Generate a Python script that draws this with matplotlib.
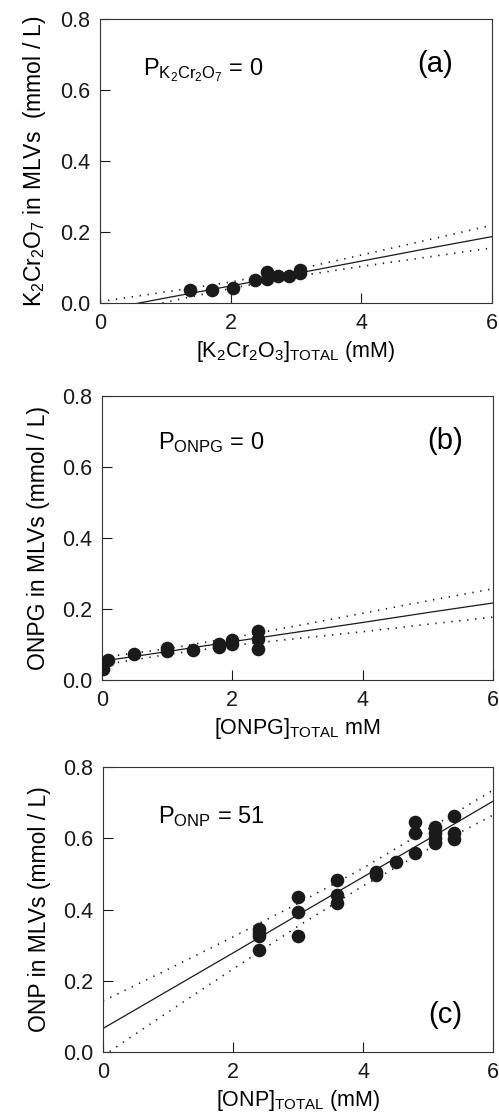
import numpy as np
import matplotlib.pyplot as plt

plt.rcParams['font.family'] = ['Liberation Sans', 'DejaVu Sans']
plt.rcParams['mathtext.fontset'] = 'custom'
plt.rcParams['mathtext.rm'] = 'Liberation Sans'
plt.rcParams['mathtext.it'] = 'Liberation Sans:italic'
plt.rcParams['mathtext.default'] = 'regular'

# K2Cr2O7 uptake
a_x = [1.37, 1.71, 2.04, 2.37, 2.55, 2.55, 2.72, 2.89, 3.06, 3.06]
a_y = [0.037, 0.037, 0.041, 0.064, 0.067, 0.087, 0.076, 0.076, 0.085, 0.094]

# ONPG uptake
b_x = [0.02, 0.02, 0.09, 0.49, 1.0, 1.0, 1.4, 1.79, 1.79, 2.0, 2.0, 2.4, 2.4, 2.4]
b_y = [0.030, 0.042, 0.055, 0.074, 0.083, 0.089, 0.085, 0.092, 0.102, 0.101, 0.113, 0.088, 0.115, 0.137]

# ONP uptake
c_x = [2.4, 2.4, 2.4, 2.4, 3.0, 3.0, 3.0, 3.6, 3.6, 3.6, 4.2, 4.2, 4.5,
       4.8, 4.8, 4.8, 5.1, 5.1, 5.1, 5.1, 5.4, 5.4, 5.4]
c_y = [0.345, 0.335, 0.325, 0.287, 0.436, 0.394, 0.326, 0.483, 0.441, 0.419,
       0.504, 0.497, 0.532, 0.647, 0.616, 0.560, 0.631, 0.614, 0.600, 0.586,
       0.663, 0.614, 0.598]

# regression lines and 95% bands, evaluated at x = 0..6
grid_x = [0, 1, 2, 3, 4, 5, 6]
a_fit = [-0.021, 0.014, 0.048, 0.083, 0.118, 0.153, 0.187]
a_up = [0.004, 0.031, 0.059, 0.094, 0.135, 0.177, 0.219]
a_lo = [-0.040, 0.002, 0.041, 0.075, 0.103, 0.129, 0.155]
b_fit = [0.053, 0.080, 0.108, 0.135, 0.162, 0.190, 0.217]
b_up = [0.064, 0.088, 0.119, 0.153, 0.188, 0.223, 0.257]
b_lo = [0.042, 0.072, 0.097, 0.117, 0.136, 0.157, 0.177]
c_fit = [0.066, 0.172, 0.278, 0.385, 0.491, 0.597, 0.704]
c_up = [0.143, 0.232, 0.323, 0.417, 0.516, 0.625, 0.735]
c_lo = [-0.011, 0.112, 0.233, 0.353, 0.466, 0.569, 0.665]

fig = plt.figure(figsize=(4.99, 11.17), dpi=100)

panels = [
    ([100/499, 814/1117, 392/499, 284/1117], a_x, a_y, a_fit, a_up, a_lo,
     'K$_2$Cr$_2$O$_7$ in MLVs  (mmol / L)',
     '[K$_2$Cr$_2$O$_3$]$_{TOTAL}$ (mM)',
     '$P_{K_2Cr_2O_7}$ = 0', (0.66, 0.656), '(a)', (5.13, 0.672)),
    ([102/499, 437/1117, 391/499, 284/1117], b_x, b_y, b_fit, b_up, b_lo,
     'ONPG in MLVs (mmol / L)',
     '[ONPG]$_{TOTAL}$ mM',
     '$P_{ONPG}$ = 0', (0.86, 0.668), '(b)', (5.26, 0.672)),
    ([103/499, 65/1117, 390/499, 285/1117], c_x, c_y, c_fit, c_up, c_lo,
     'ONP in MLVs (mmol / L)',
     '[ONP]$_{TOTAL}$ (mM)',
     '$P_{ONP}$ = 51', (0.85, 0.66), '(c)', (5.26, 0.104)),
]

for rect, x, y, fit, up, lo, ylab, xlab, ptxt, ppos, tag, tpos in panels:
    ax = fig.add_axes(rect)
    ax.plot(grid_x, fit, color='#1a1a1a', lw=0.9)
    ax.plot(grid_x, up, color='#1a1a1a', lw=1.2, ls=(0, (0.8, 4.0)))
    ax.plot(grid_x, lo, color='#1a1a1a', lw=1.2, ls=(0, (0.8, 4.0)))
    ax.plot(x, y, 'o', color='#1a1a1a', ms=9.8, mec='none', zorder=3)
    ax.set_xlim(0, 6)
    ax.set_ylim(0, 0.8)
    ax.set_xticks([0, 2, 4, 6])
    ax.set_yticks([0, 0.2, 0.4, 0.6, 0.8])
    ax.set_yticklabels(['0.0', '0.2', '0.4', '0.6', '0.8'])
    ax.tick_params(direction='in', length=7, width=0.8, labelsize=15.5,
                   pad=7, colors='#1a1a1a')
    for s in ax.spines.values():
        s.set_linewidth(0.8)
        s.set_color('#333333')
    ax.set_ylabel(ylab, fontsize=16.5, labelpad=9)
    ax.set_xlabel(xlab, fontsize=15.5, labelpad=4)
    ax.text(ppos[0], ppos[1], ptxt, fontsize=17, va='center', ha='left')
    ax.text(tpos[0], tpos[1], tag, fontsize=21, va='center', ha='center')

fig.savefig('out.png', dpi=100)
